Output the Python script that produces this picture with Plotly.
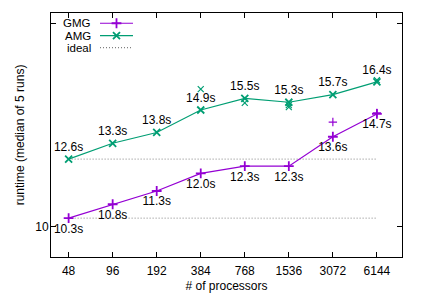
import plotly.graph_objects as go
import math

processors = [48, 96, 192, 384, 768, 1536, 3072, 6144]
gmg = [10.3, 10.8, 11.3, 12.0, 12.3, 12.3, 13.6, 14.7]
amg = [12.6, 13.3, 13.8, 14.9, 15.5, 15.3, 15.7, 16.4]
gmg_runs_x = [3072, 6144]
gmg_runs_y = [14.3, 14.75]
amg_runs_x = [384, 768, 1536, 1536, 6144]
amg_runs_y = [16.0, 15.27, 15.15, 15.05, 16.5]

PURPLE = "#9400d3"
GREEN = "#009e73"
GRAY = "#808080"
FONT = "Liberation Sans, Arial, sans-serif"
DOT = "1px,2px"

fig = go.Figure()

# ideal lines
fig.add_trace(go.Scatter(x=processors, y=[gmg[0]] * len(processors), mode="lines",
                         line=dict(color=GRAY, width=1, dash=DOT), showlegend=False))
fig.add_trace(go.Scatter(x=processors, y=[amg[0]] * len(processors), mode="lines",
                         line=dict(color=GRAY, width=1, dash=DOT), showlegend=False))

# individual runs
fig.add_trace(go.Scatter(x=gmg_runs_x, y=gmg_runs_y, mode="markers",
                         marker=dict(symbol="cross-thin", size=6, line=dict(color=PURPLE, width=1.2)),
                         showlegend=False))
fig.add_trace(go.Scatter(x=amg_runs_x, y=amg_runs_y, mode="markers",
                         marker=dict(symbol="x-thin", size=6, line=dict(color=GREEN, width=1.2)),
                         showlegend=False))

# medians
fig.add_trace(go.Scatter(x=processors, y=gmg, mode="lines+markers+text",
                         line=dict(color=PURPLE, width=1.2),
                         marker=dict(symbol="cross-thin", size=7, line=dict(color=PURPLE, width=1.8)),
                         text=[f"{v:.1f}s" for v in gmg], textposition="bottom center",
                         textfont=dict(size=12, color="black", family=FONT), showlegend=False))
fig.add_trace(go.Scatter(x=processors, y=amg, mode="lines+markers+text",
                         line=dict(color=GREEN, width=1.2),
                         marker=dict(symbol="x-thin", size=7, line=dict(color=GREEN, width=1.8)),
                         text=[f"{v:.1f}s" for v in amg], textposition="top center",
                         textfont=dict(size=12, color="black", family=FONT), showlegend=False))

# manual gnuplot-style legend (on overlay axes in plot-fraction coords)
leg_x0, leg_x1 = 0.1396, 0.2336
leg_rows = [("GMG", 0.958, PURPLE, "cross-thin", "solid"),
            ("AMG", 0.907, GREEN, "x-thin", "solid"),
            ("ideal", 0.858, GRAY, None, DOT)]
for name, yy, col, sym, dash in leg_rows:
    fig.add_trace(go.Scatter(x=[leg_x0, leg_x1], y=[yy, yy], mode="lines",
                             line=dict(color=col, width=1.2, dash=dash),
                             xaxis="x2", yaxis="y2", showlegend=False, hoverinfo="skip"))
    if sym:
        fig.add_trace(go.Scatter(x=[(leg_x0 + leg_x1) / 2], y=[yy], mode="markers",
                                 marker=dict(symbol=sym, size=7, line=dict(color=col, width=1.8)),
                                 xaxis="x2", yaxis="y2", showlegend=False, hoverinfo="skip"))
    fig.add_annotation(x=0.116, y=yy, xref="paper", yref="paper", text=name,
                       showarrow=False, xanchor="right", yanchor="middle",
                       font=dict(size=11.5, color="black", family=FONT), borderpad=0)

xr = [math.log10(48) - 0.4 * math.log10(2), math.log10(48) + 7.57 * math.log10(2)]
fig.update_layout(
    width=423, height=295,
    margin=dict(l=51, r=21, t=13, b=38, autoexpand=False),
    paper_bgcolor="white", plot_bgcolor="white",
    font=dict(family=FONT, size=12, color="black"),
    showlegend=False,
    xaxis=dict(type="log", range=xr, tickvals=processors, ticktext=[str(p) for p in processors],
               ticks="inside", ticklen=5, tickcolor="black", showline=True, linecolor="black",
               linewidth=1, mirror="ticks", showgrid=False, zeroline=False, automargin=False,
               ticklabelstandoff=3,
               title=dict(text="# of processors", standoff=4, font=dict(size=12))),
    yaxis=dict(type="log", range=[math.log10(9.02), math.log10(20.75)], tickvals=[10, 20],
               ticktext=["10", ""], ticks="inside", ticklen=5, tickcolor="black", showline=True,
               linecolor="black", linewidth=1, mirror="ticks", showgrid=False, zeroline=False,
               automargin=False, ticklabelstandoff=-1,
               title=dict(text="runtime (median of 5 runs)", standoff=8, font=dict(size=12))),
    xaxis2=dict(overlaying="x", range=[0, 1], visible=False, fixedrange=True),
    yaxis2=dict(overlaying="y", range=[0, 1], visible=False, fixedrange=True),
)

fig.write_html("out.html", config={"displayModeBar": False},
               post_script="document.body.style.margin='0';document.body.style.overflow='hidden';")
